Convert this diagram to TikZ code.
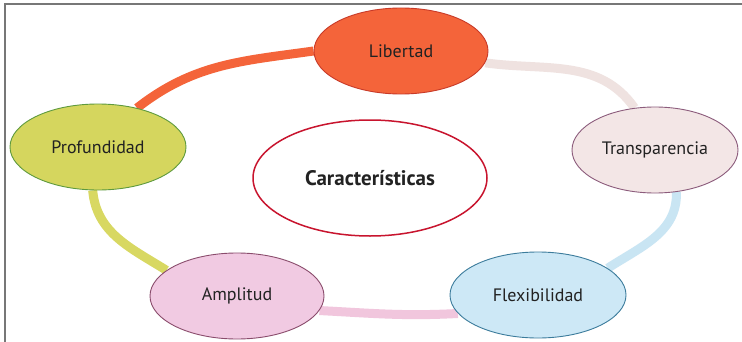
\documentclass[tikz,border=0pt]{standalone}
\usepackage{fontspec}
\setmainfont{PT Sans}
\usetikzlibrary{shapes.geometric,backgrounds}

\definecolor{libfill}{HTML}{F4643A}
\definecolor{libdraw}{HTML}{C83A28}
\definecolor{trafill}{HTML}{F3E6E6}
\definecolor{tradraw}{HTML}{8C5C7C}
\definecolor{profill}{HTML}{D5D65E}
\definecolor{prodraw}{HTML}{5E9A3E}
\definecolor{ampfill}{HTML}{F1CAE2}
\definecolor{ampdraw}{HTML}{8A4C6C}
\definecolor{flefill}{HTML}{CDE8F6}
\definecolor{fledraw}{HTML}{3C7C9C}
\definecolor{cardraw}{HTML}{C8142E}
\definecolor{txt}{HTML}{222222}
\definecolor{frame}{HTML}{777777}
\definecolor{linktra}{HTML}{EFE2E0}
\definecolor{linkfle}{HTML}{C9E5F3}
\definecolor{linkamp}{HTML}{F1C6DD}
\definecolor{linkpro}{HTML}{D8D862}

\tikzset{
  bubble/.style={ellipse, inner sep=0pt, minimum width=174pt, minimum height=86pt,
    line width=0.9pt, text=txt, font=\fontsize{18}{20}\selectfont},
  hub/.style={ellipse, inner sep=0pt, minimum width=234pt, minimum height=116pt,
    draw=cardraw, fill=white, line width=1.5pt, text=txt,
    font=\fontsize{21}{23}\selectfont\bfseries},
  link/.style={line width=9pt}
}

\begin{document}
\begin{tikzpicture}[x=1pt,y=1pt]
  \useasboundingbox (0,0) rectangle (742,341);

  % outer ring of characteristics
  \node[bubble, draw=libdraw, fill=libfill] (lib) at (401,290) {Libertad};
  \node[bubble, draw=tradraw, fill=trafill, minimum width=166pt] (tra) at (655,191) {Transparencia};
  \node[bubble, draw=prodraw, fill=profill, minimum width=176pt] (pro) at (98,194) {Profundidad};
  \node[bubble, draw=ampdraw, fill=ampfill] (amp) at (237,45) {Amplitud};
  \node[bubble, draw=fledraw, fill=flefill, minimum width=176pt] (fle) at (538,46) {Flexibilidad};

  % central node
  \node[hub] (car) at (370,163) {Características};

  \begin{pgfonlayer}{background}
    \fill[white] (0,0) rectangle (742,341);
    % frame lines along the top and left edges
    \draw[frame, line width=1.2pt] (5,-10) -- (5,337) -- (760,337);
    % coloured links between neighbouring bubbles
    \draw[link, libfill] (pro.45) to[out=38, in=188] (lib.west);
    \draw[link, linktra] (lib.-8) to[out=-8, in=125] (tra.116);
    \draw[link, linkfle] (tra.-63) to[out=-88, in=33] (fle.21);
    \draw[link, linkamp] (fle.193) to[out=183, in=-3] (amp.-10);
    \draw[link, linkpro] (pro.-97) to[out=-85, in=148] (amp.160);
  \end{pgfonlayer}
\end{tikzpicture}
\end{document}
